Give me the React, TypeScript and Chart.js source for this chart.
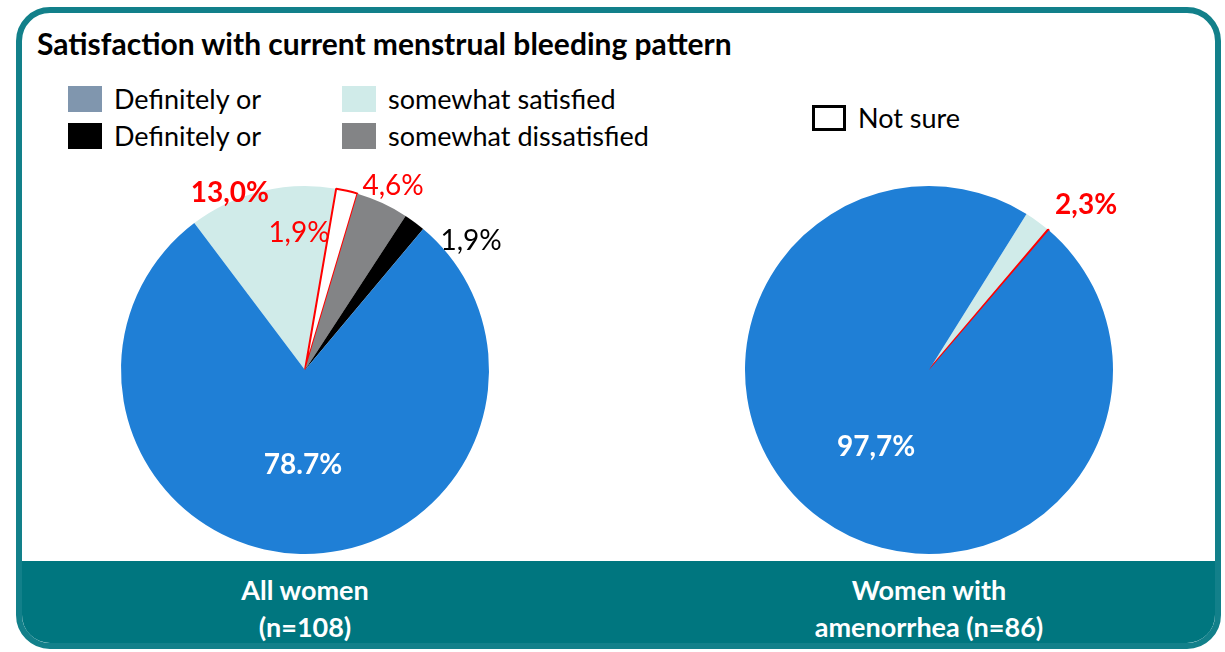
import React, { useEffect, useRef } from "react";
import Chart from "chart.js/auto";

const sliceNames = ["Somewhat satisfied", "Not sure", "Somewhat dissatisfied", "Definitely dissatisfied", "Definitely satisfied"];
const sliceColors = ["#D0EBE9", "#FFFFFF", "#838486", "#000000", "#1F7FD6"];
const sliceBorderColors = ["#D0EBE9", "#FF0000", "#838486", "#000000", "#1F7FD6"];
const sliceBorderWidths = [0, 2, 0, 0, 0];

const allWomenValues = [13.0, 1.9, 4.6, 1.9, 78.7];
const allWomenLabels = ["13,0%", "1,9%", "4,6%", "1,9%", "78.7%"];
const amenorrheaValues = [2.3, 0.1, 0, 0, 97.7];
const amenorrheaLabels = ["2,3%", "", "", "", "97,7%"];

const groupTitles = [["All women", "(n=108)"], ["Women with", "amenorrhea (n=86)"]];
const chartTitle = "Satisfaction with current menstrual bleeding pattern";
const legendLeft = [
  { text: "Definitely or", color: "#8096AE" },
  { text: "Definitely or", color: "#000000" },
];
const legendRight = [
  { text: "somewhat satisfied", color: "#D0EBE9" },
  { text: "somewhat dissatisfied", color: "#838486" },
];

const FONT = "Lato, 'Open Sans', sans-serif";

type Style = { color: string; bold: boolean; a: number; r: number } | null;

const allWomenLabelStyle: Style[] = [
  { color: "#FF0000", bold: true, a: -23, r: 1.045 },
  { color: "#FF0000", bold: false, a: -2.5, r: 0.745 },
  { color: "#FF0000", bold: false, a: 25.6, r: 1.108 },
  { color: "#000000", bold: false, a: 52.2, r: 1.142 },
  { color: "#FFFFFF", bold: true, a: 181.2, r: 0.516 },
];
const amenorrheaLabelStyle: Style[] = [
  { color: "#FF0000", bold: true, a: 43.6, r: 1.238 },
  null,
  null,
  null,
  { color: "#FFFFFF", bold: true, a: 214.5, r: 0.508 },
];

const sliceLabelPlugin = {
  id: "sliceLabels",
  afterDatasetsDraw(chart: any, _args: any, opts: any) {
    const meta = chart.getDatasetMeta(0);
    const arc0 = meta.data[0];
    if (!arc0) return;
    const { x, y, outerRadius } = arc0.getProps(["x", "y", "outerRadius"], true);
    const ctx = chart.ctx;
    ctx.save();
    ctx.textAlign = "center";
    ctx.textBaseline = "middle";
    (opts.labels as string[]).forEach((txt, i) => {
      const st = (opts.styles as Style[])[i];
      if (!txt || !st) return;
      const ang = (st.a * Math.PI) / 180;
      const px = x + Math.sin(ang) * outerRadius * st.r;
      const py = y - Math.cos(ang) * outerRadius * st.r;
      ctx.font = `${st.bold ? "bold " : ""}${opts.size}px ${FONT}`;
      ctx.fillStyle = st.color;
      ctx.fillText(txt, px, py);
    });
    ctx.restore();
  },
};

function PieChart(props: { values: number[]; labels: string[]; styles: Style[]; rotation: number; left: number; top: number }) {
  const ref = useRef<HTMLCanvasElement>(null);
  useEffect(() => {
    const chart = new Chart(ref.current!, {
      type: "pie",
      data: {
        labels: sliceNames,
        datasets: [
          {
            data: props.values,
            backgroundColor: sliceColors,
            borderColor: sliceBorderColors,
            borderWidth: sliceBorderWidths,
            hoverOffset: 0,
            offset: 0,
          } as any,
        ],
      },
      options: {
        animation: false,
        responsive: false,
        events: [],
        rotation: props.rotation,
        layout: { padding: { left: 75, right: 75, top: 15, bottom: 15 } },
        plugins: {
          legend: { display: false },
          tooltip: { enabled: false },
          title: { display: false },
          sliceLabels: { labels: props.labels, styles: props.styles, size: 28 },
        } as any,
      },
      plugins: [sliceLabelPlugin],
    });
    return () => chart.destroy();
  }, []);
  return (
    <canvas
      ref={ref}
      width={520}
      height={400}
      style={{ position: "absolute", left: props.left, top: props.top, width: 520, height: 400 }}
    />
  );
}

function Swatch({ color, border }: { color: string; border?: boolean }) {
  return (
    <div
      style={{
        width: 34,
        height: 26,
        background: color,
        boxSizing: "border-box",
        border: border ? "3px solid #000" : "none",
        marginRight: 12,
        flex: "0 0 auto",
      }}
    />
  );
}

export default function App() {
  const legendText: React.CSSProperties = { fontFamily: FONT, fontSize: 27, color: "#000", lineHeight: "30px", whiteSpace: "nowrap" };
  const bandText: React.CSSProperties = {
    position: "absolute",
    top: 571,
    width: 400,
    textAlign: "center",
    fontFamily: FONT,
    fontWeight: "bold",
    fontSize: 27,
    lineHeight: "37px",
    color: "#FFFFFF",
  };
  return (
    <div style={{ position: "absolute", left: 0, top: 0, width: 1225, height: 652, background: "#FFFFFF", overflow: "hidden" }}>
      <div
        style={{
          position: "absolute",
          left: 16,
          top: 7,
          width: 1205,
          height: 642,
          boxSizing: "border-box",
          border: "6px solid #12808A",
          borderRadius: 34,
          overflow: "hidden",
          background: "#FFFFFF",
        }}
      >
        <div style={{ position: "absolute", left: 0, right: 0, bottom: 0, height: 82, background: "#00767F" }} />
      </div>
      <div style={{ position: "absolute", left: 37, top: 27, fontFamily: FONT, fontWeight: "bold", fontSize: 30, lineHeight: "32px", color: "#000", whiteSpace: "nowrap" }}>
        {chartTitle}
      </div>
      {legendLeft.map((it, i) => (
        <div key={"l" + i} style={{ position: "absolute", left: 68, top: 86 + i * 37, height: 26, display: "flex", alignItems: "center" }}>
          <Swatch color={it.color} />
          <span style={legendText}>{it.text}</span>
        </div>
      ))}
      {legendRight.map((it, i) => (
        <div key={"r" + i} style={{ position: "absolute", left: 342, top: 86 + i * 37, height: 26, display: "flex", alignItems: "center" }}>
          <Swatch color={it.color} />
          <span style={legendText}>{it.text}</span>
        </div>
      ))}
      <div style={{ position: "absolute", left: 812, top: 104, height: 27, display: "flex", alignItems: "center" }}>
        <Swatch color="#FFFFFF" border />
        <span style={legendText}>Not sure</span>
      </div>
      <PieChart values={allWomenValues} labels={allWomenLabels} styles={allWomenLabelStyle} rotation={-37} left={45} top={170} />
      <PieChart values={amenorrheaValues} labels={amenorrheaLabels} styles={amenorrheaLabelStyle} rotation={32} left={669} top={170} />
      <div style={{ ...bandText, left: 105 }}>
        {groupTitles[0][0]}
        <br />
        {groupTitles[0][1]}
      </div>
      <div style={{ ...bandText, left: 729 }}>
        {groupTitles[1][0]}
        <br />
        {groupTitles[1][1]}
      </div>
    </div>
  );
}
